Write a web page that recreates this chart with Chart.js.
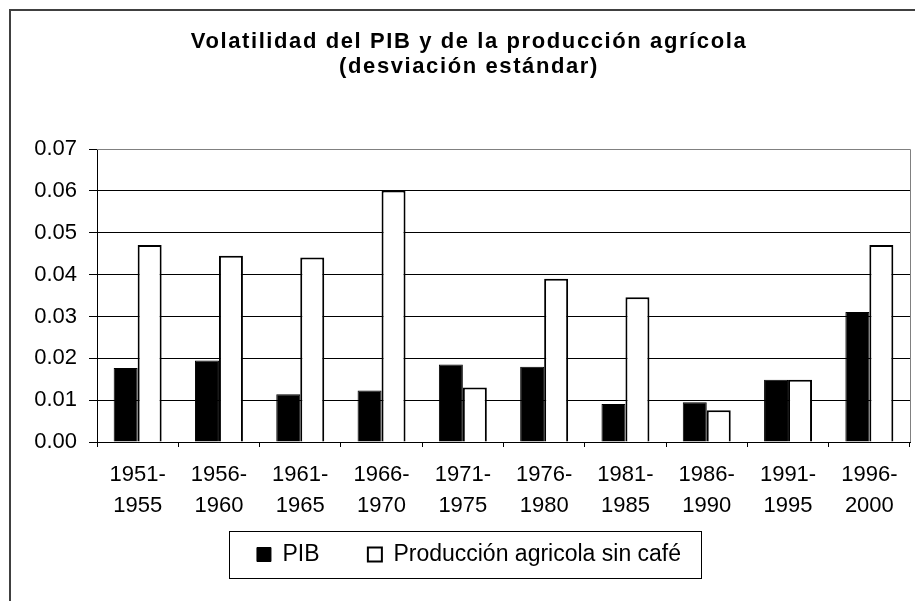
<!DOCTYPE html>
<html lang="es">
<head>
<meta charset="UTF-8">
<title>Volatilidad del PIB y de la producción agrícola</title>
<script src="https://cdn.jsdelivr.net/npm/chart.js"></script>
<style>
  * { box-sizing: border-box; margin: 0; padding: 0; }
  html, body { width: 915px; height: 601px; overflow: hidden; background: #fff; }
  .frame { position: absolute; left: 9px; top: 9px; width: 940px; height: 620px; border: 2px solid #404040; }
  canvas { display: block; }
</style>
</head>
<body>
<div class="frame"><canvas id="chart" width="916" height="590"></canvas></div>
<script>
  const periods = [
    ["1951-", "1955"], ["1956-", "1960"], ["1961-", "1965"], ["1966-", "1970"], ["1971-", "1975"],
    ["1976-", "1980"], ["1981-", "1985"], ["1986-", "1990"], ["1991-", "1995"], ["1996-", "2000"]
  ];
  const pib = [0.0177, 0.0195, 0.0114, 0.0123, 0.0185, 0.0180, 0.0091, 0.0095, 0.0149, 0.0311];
  const agricola = [0.0471, 0.0445, 0.0441, 0.0601, 0.0130, 0.0390, 0.0346, 0.0076, 0.0149, 0.0471];
  const yMax = 0.07;
  const yStep = 0.01;

  Chart.defaults.font.family = '"Liberation Sans", Arial, sans-serif';
  Chart.defaults.color = "#000";

  // gray top/right border of the plot and the box round the legend
  const frames = {
    id: "frames",
    beforeDraw(chart) {
      const tb = chart.titleBlock;
      if (tb && !tb._spaced) {
        const orig = tb.draw.bind(tb);
        tb.draw = function (area) {
          chart.ctx.save();
          chart.ctx.letterSpacing = "1.6px";
          orig(area);
          chart.ctx.restore();
        };
        tb._spaced = true;
      }
    },
    afterDraw(chart) {
      const { ctx, chartArea: a, legend } = chart;
      ctx.save();
      ctx.lineWidth = 1;
      ctx.strokeStyle = "#808080";
      ctx.beginPath();
      ctx.moveTo(a.left, Math.round(a.top) + 0.5);
      ctx.lineTo(Math.round(a.right) + 0.5, Math.round(a.top) + 0.5);
      ctx.lineTo(Math.round(a.right) + 0.5, a.bottom);
      ctx.stroke();

      const hb = legend.legendHitBoxes;
      if (hb && hb.length) {
        const first = hb[0], last = hb[hb.length - 1];
        const cy = first.top + first.height / 2;
        const x0 = Math.round(first.left - 28) + 0.5;
        const x1 = Math.round(last.left + last.width + 20) + 0.5;
        ctx.strokeStyle = "#000";
        ctx.strokeRect(x0, Math.round(cy - 23.5) + 0.5, x1 - x0, 47);
      }
      ctx.restore();
    }
  };

  new Chart(document.getElementById("chart"), {
    type: "bar",
    data: {
      labels: periods,
      datasets: [
        { label: "PIB", data: pib, backgroundColor: "#000", borderColor: "#000", borderWidth: 1 },
        { label: "Producción agricola sin café", data: agricola, backgroundColor: "#fff", borderColor: "#000", borderWidth: 2 }
      ]
    },
    options: {
      responsive: false,
      animation: false,
      devicePixelRatio: 1,
      layout: { padding: { top: 0, left: 17, right: 17, bottom: 25 } },
      datasets: { bar: { barPercentage: 1, categoryPercentage: 0.59 } },
      scales: {
        x: {
          ticks: { color: "#000", font: { size: 22, lineHeight: 1.38 }, padding: 13, maxRotation: 0, autoSkip: false },
          grid: { drawOnChartArea: false, tickLength: 5, color: "#000", offset: true },
          border: { color: "#000", width: 1 },
          afterFit(scale) { scale.height = 91; }
        },
        y: {
          min: 0,
          max: yMax,
          ticks: { stepSize: yStep, color: "#000", font: { size: 22 }, padding: 12, callback: v => v.toFixed(2) },
          grid: {
            color: c => (c.tick && c.tick.value > yMax - yStep / 20 ? "#808080" : "#000"),
            tickColor: "#000",
            tickLength: 8,
            lineWidth: 1
          },
          border: { color: "#000", width: 1 },
          afterFit(scale) { scale.width = 69; }
        }
      },
      plugins: {
        title: {
          display: true,
          text: ["Volatilidad del PIB y de la producción agrícola", "(desviación estándar)"],
          color: "#000",
          font: { size: 22, weight: "bold", lineHeight: 1.14 },
          padding: { top: 18, bottom: 70 }
        },
        legend: {
          position: "bottom",
          labels: {
            color: "#000",
            font: { size: 23 },
            boxWidth: 14,
            boxHeight: 14,
            padding: 10,
            generateLabels(chart) {
              const items = Chart.defaults.plugins.legend.labels.generateLabels(chart);
              items[0].text = items[0].text + "      ";
              return items;
            }
          }
        },
        tooltip: { enabled: false }
      }
    },
    plugins: [frames]
  });
</script>
</body>
</html>
